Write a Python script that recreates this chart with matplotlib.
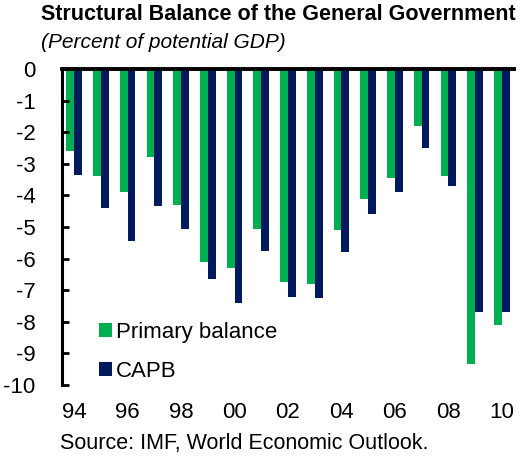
import numpy as np
import matplotlib.pyplot as plt

plt.rcParams["font.family"] = ["Liberation Sans", "DejaVu Sans"]

years = ["94", "95", "96", "97", "98", "99", "00", "01", "02",
         "03", "04", "05", "06", "07", "08", "09", "10"]
primary_balance = [-2.6, -3.4, -3.9, -2.8, -4.3, -6.1, -6.3, -5.05, -6.75,
                   -6.8, -5.1, -4.1, -3.45, -1.8, -3.4, -9.35, -8.1]
capb = [-3.35, -4.4, -5.45, -4.35, -5.05, -6.65, -7.4, -5.75, -7.2,
        -7.25, -5.8, -4.6, -3.9, -2.5, -3.7, -7.7, -7.7]
tick_labels = ["94", "96", "98", "00", "02", "04", "06", "08", "10"]

GREEN = "#00B050"
NAVY = "#001A5E"

fig = plt.figure(figsize=(5.27, 4.57), dpi=100)
ax = fig.add_axes([62 / 527, 1 - 385 / 457, (514 - 62) / 527, (385 - 69) / 457])

x = np.arange(len(years))
w = 0.29
ax.bar(x - w / 2, primary_balance, width=w, color=GREEN, label="Primary balance")
ax.bar(x + w / 2, capb, width=w, color=NAVY, label="CAPB")

ax.set_ylim(-10, 0)
ax.set_xlim(-0.45, len(years) - 0.55)
ax.set_yticks(range(-10, 1))
ax.set_yticklabels([str(v) for v in range(-10, 1)], fontsize=16)
ax.set_xticks(x[::2])
ax.set_xticklabels(tick_labels, fontsize=16)

for s in ["right", "bottom"]:
    ax.spines[s].set_visible(False)
ax.spines["top"].set_linewidth(2.8)
ax.spines["left"].set_linewidth(2.2)
ax.tick_params(axis="y", direction="in", length=5, width=2, pad=19)
ax.tick_params(axis="x", length=0, pad=12)

ax.legend(loc="lower left", bbox_to_anchor=(0.082, 0.01), frameon=False,
          fontsize=16, handlelength=0.6, handleheight=0.6, handletextpad=0.15,
          labelspacing=0.8, borderaxespad=0, borderpad=0)

fig.text(41 / 527, 1 - 15 / 457, "Structural Balance of the General Government",
         fontsize=15.5, fontweight="bold", va="center", ha="left")
fig.text(41 / 527, 1 - 42 / 457, "(Percent of potential GDP)",
         fontsize=15, style="italic", va="center", ha="left")
fig.text(60 / 527, 1 - 444 / 457, "Source: IMF, World Economic Outlook.",
         fontsize=15.5, va="center", ha="left")

fig.savefig("out.png", dpi=100)
